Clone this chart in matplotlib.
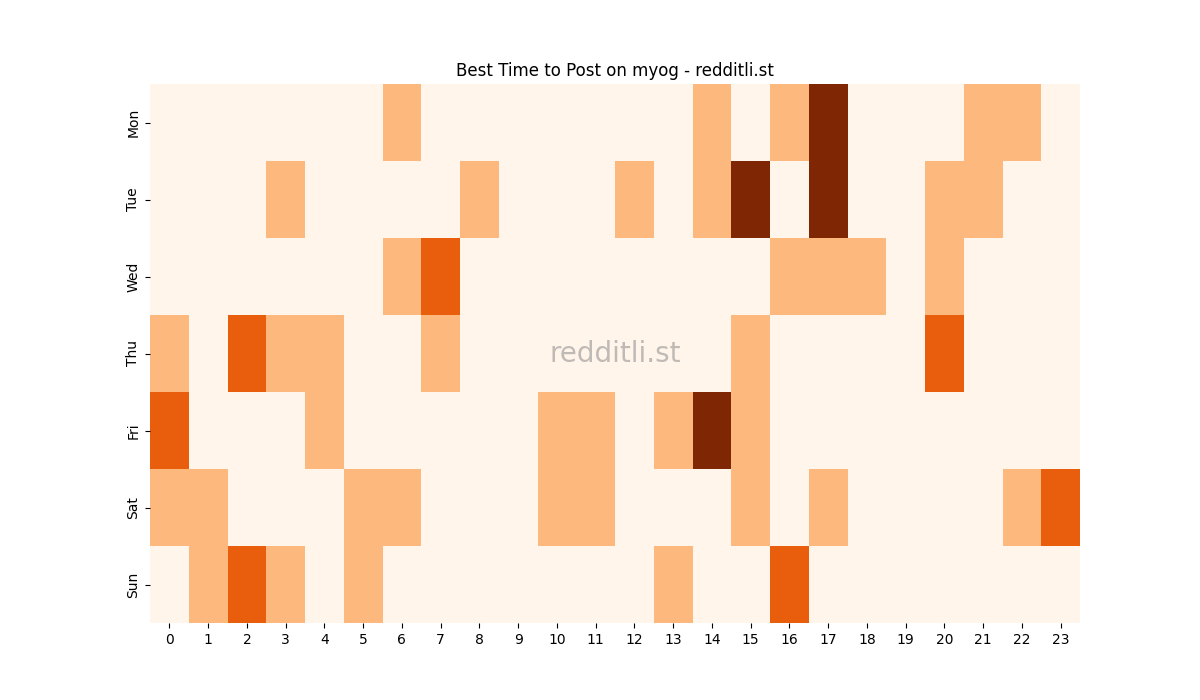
import matplotlib
matplotlib.use("Agg")
import matplotlib.pyplot as plt
import seaborn as sns
import pandas as pd

days = ["Mon", "Tue", "Wed", "Thu", "Fri", "Sat", "Sun"]
hours = list(range(24))

# activity level per hour (0 = none .. 3 = best)
mon = [0, 0, 0, 0, 0, 0, 1, 0, 0, 0, 0, 0, 0, 0, 1, 0, 1, 3, 0, 0, 0, 1, 1, 0]
tue = [0, 0, 0, 1, 0, 0, 0, 0, 1, 0, 0, 0, 1, 0, 1, 3, 0, 3, 0, 0, 1, 1, 0, 0]
wed = [0, 0, 0, 0, 0, 0, 1, 2, 0, 0, 0, 0, 0, 0, 0, 0, 1, 1, 1, 0, 1, 0, 0, 0]
thu = [1, 0, 2, 1, 1, 0, 0, 1, 0, 0, 0, 0, 0, 0, 0, 1, 0, 0, 0, 0, 2, 0, 0, 0]
fri = [2, 0, 0, 0, 1, 0, 0, 0, 0, 0, 1, 1, 0, 1, 3, 1, 0, 0, 0, 0, 0, 0, 0, 0]
sat = [1, 1, 0, 0, 0, 1, 1, 0, 0, 0, 1, 1, 0, 0, 0, 1, 0, 1, 0, 0, 0, 0, 1, 2]
sun = [0, 1, 2, 1, 0, 1, 0, 0, 0, 0, 0, 0, 0, 1, 0, 0, 2, 0, 0, 0, 0, 0, 0, 0]

df = pd.DataFrame([mon, tue, wed, thu, fri, sat, sun], index=days, columns=hours)

fig, ax = plt.subplots(figsize=(12, 7), dpi=100)
sns.heatmap(df, cmap="Oranges", cbar=False, vmin=0, vmax=3, ax=ax)
ax.set_title("Best Time to Post on myog - redditli.st")
ax.set_xlabel("")
ax.set_ylabel("")
ax.text(0.5, 0.5, "redditli.st", transform=ax.transAxes, ha="center", va="center",
        fontsize=20, color="grey", alpha=0.5)

fig.savefig("out.png")
